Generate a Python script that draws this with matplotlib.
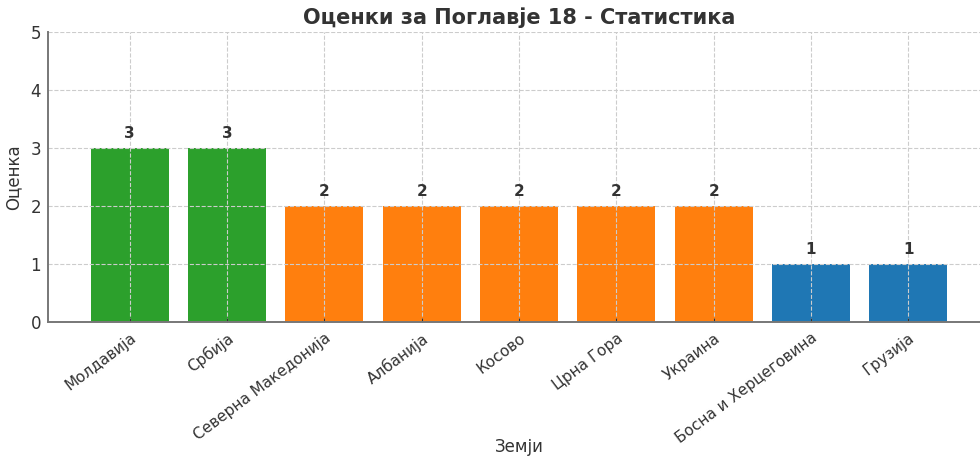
import matplotlib
matplotlib.use("Agg")
import matplotlib.pyplot as plt

# data
countries = ["Молдавија", "Србија", "Северна Македонија", "Албанија", "Косово",
             "Црна Гора", "Украина", "Босна и Херцеговина", "Грузија"]
scores = [3, 3, 2, 2, 2, 2, 2, 1, 1]
score_colors = {3: "#2ca02c", 2: "#ff7f0e", 1: "#1f77b4"}

text_col = "#333333"

fig = plt.figure(figsize=(9.8, 4.57), dpi=100)
# axes runs a little past the right edge, like the reference crop
ax = fig.add_axes([48/980, 135/457, 942/980, 290/457])

bars = ax.bar(countries, scores, width=0.8,
              color=[score_colors[s] for s in scores])

for b, s in zip(bars, scores):
    ax.text(b.get_x() + b.get_width()/2, s + 0.12, str(s),
            ha="center", va="bottom", fontsize=11, fontweight="bold",
            color=text_col)

ax.set_ylim(0, 5)
ax.set_yticks(range(6))
ax.grid(True, linestyle="--", color="#cccccc", linewidth=0.8)

ax.set_title("Оценки за Поглавје 18 - Статистика", fontsize=15,
             fontweight="bold", color=text_col, pad=6)
ax.set_ylabel("Оценка", fontsize=12, color=text_col, labelpad=6)
ax.set_xlabel("Земји", fontsize=12, color=text_col)
ax.xaxis.set_label_coords(0.5, -0.40)

plt.setp(ax.get_xticklabels(), rotation=37, ha="right",
         rotation_mode="anchor", fontsize=11, color=text_col)
plt.setp(ax.get_yticklabels(), fontsize=12, color=text_col)
ax.tick_params(axis="y", length=0, pad=5)
ax.tick_params(axis="x", length=3, direction="in", color="#333333", pad=6)

for side in ("top", "right"):
    ax.spines[side].set_visible(False)
for side in ("left", "bottom"):
    ax.spines[side].set_color("#777777")
    ax.spines[side].set_linewidth(1.4)

fig.savefig("out.png", dpi=100)
